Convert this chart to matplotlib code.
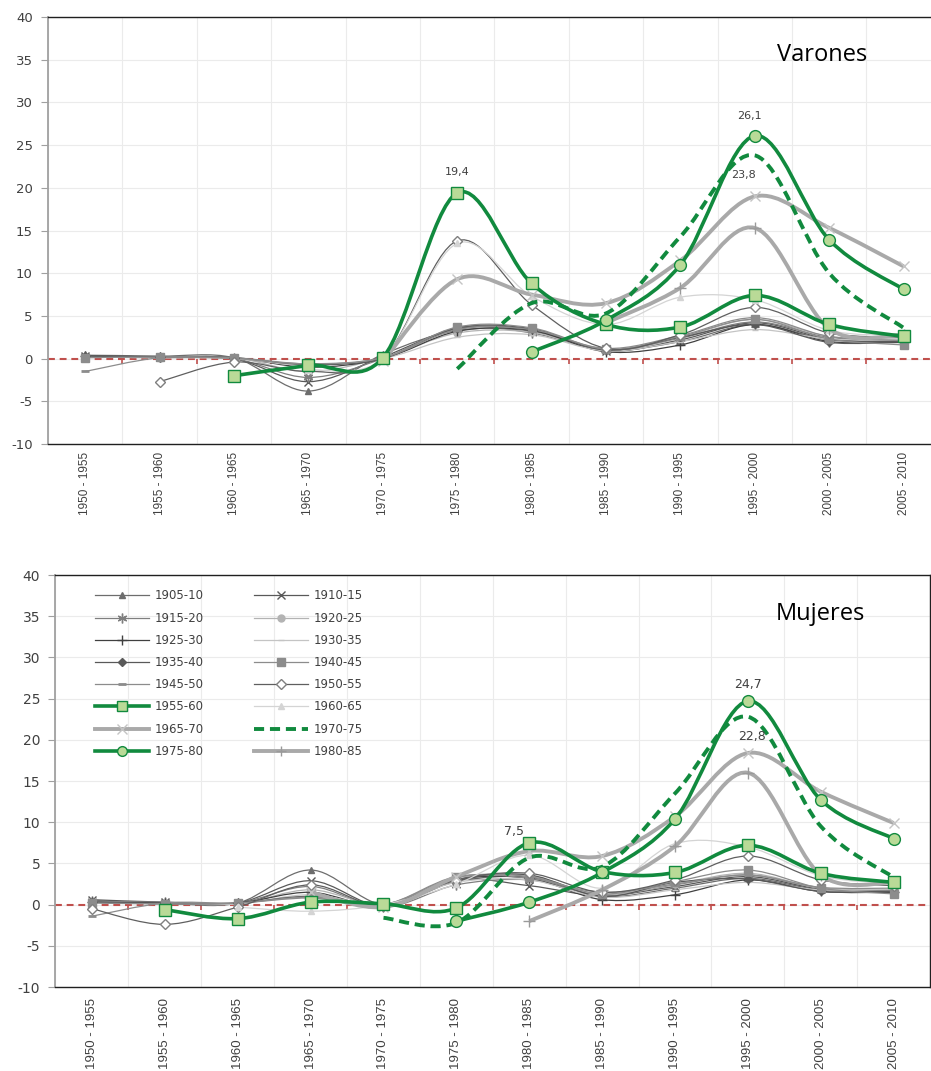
import numpy as np
import matplotlib
matplotlib.use("Agg")
import matplotlib.pyplot as plt
from matplotlib.path import Path
from matplotlib.patches import PathPatch
from matplotlib.lines import Line2D

nan = np.nan

periods = ["1950 - 1955", "1955 - 1960", "1960 - 1965", "1965 - 1970",
           "1970 - 1975", "1975 - 1980", "1980 - 1985", "1985 - 1990",
           "1990 - 1995", "1995 - 2000", "2000 - 2005", "2005 - 2010"]

cohorts = ["1905-10", "1910-15", "1915-20", "1920-25", "1925-30", "1930-35",
           "1935-40", "1940-45", "1945-50", "1950-55", "1955-60", "1960-65",
           "1965-70", "1970-75", "1975-80", "1980-85"]

# Varones (upper panel), one list per birth cohort
v1905 = [0.4, 0.3, 0.1, -3.8, 0.5, 3.3, 3.2, 1.0, 2.0, 4.0, 2.2, 2.0]
v1910 = [0.3, 0.2, 0.0, -2.7, 0.2, 3.5, 3.4, 0.9, 2.2, 4.2, 2.3, 2.0]
v1915 = [0.3, 0.2, 0.0, -2.2, 0.0, 3.6, 3.0, 1.0, 2.4, 4.3, 2.5, 2.2]
v1920 = [0.2, 0.1, 0.1, -1.5, 0.1, 3.0, 3.1, 1.0, 2.5, 4.6, 2.6, 2.3]
v1925 = [0.3, 0.2, 0.1, -1.0, 0.0, 3.2, 3.3, 0.8, 1.6, 4.0, 2.0, 1.9]
v1930 = [0.2, 0.1, 0.0, -0.8, 0.0, 2.5, 2.8, 0.9, 2.0, 3.4, 2.3, 2.2]
v1935 = [0.3, 0.2, 0.1, -0.7, 0.0, 3.6, 3.5, 1.0, 2.5, 4.0, 1.9, 2.0]
v1940 = [0.1, 0.2, 0.1, -0.6, 0.1, 3.7, 3.6, 1.1, 2.6, 4.6, 2.3, 1.6]
v1945 = [-1.5, 0.1, 0.0, -0.6, 0.1, 3.4, 3.4, 1.2, 2.7, 4.8, 2.6, 2.1]
v1950 = [nan, -2.7, -0.4, -1.5, 0.0, 13.8, 6.3, 1.2, 2.8, 6.0, 3.0, 2.5]
v1955 = [nan, nan, -2.0, -0.8, 0.1, 19.4, 8.8, 4.0, 3.7, 7.4, 4.0, 2.6]
v1960 = [nan, nan, nan, -1.3, 0.0, 13.5, 7.3, 4.0, 7.2, 6.9, 3.3, 2.7]
v1965 = [nan, nan, nan, nan, -0.3, 9.3, 7.5, 6.5, 11.5, 19.0, 15.3, 10.8]
v1970 = [nan, nan, nan, nan, nan, -1.2, 6.5, 5.3, 14.3, 23.8, 10.0, 3.6]
v1975 = [nan, nan, nan, nan, nan, nan, 0.8, 4.5, 11.0, 26.1, 13.9, 8.1]
v1980 = [nan, nan, nan, nan, nan, nan, nan, 4.2, 8.3, 15.3, 3.5, 2.8]

# Mujeres (lower panel)
m1905 = [0.5, 0.2, 0.2, 4.2, 0.0, 2.8, 3.3, 1.0, 2.0, 3.2, 1.8, 1.6]
m1910 = [0.6, 0.3, 0.2, 2.9, -0.2, 3.0, 2.3, 1.1, 2.2, 3.4, 1.9, 1.7]
m1915 = [0.4, 0.3, 0.2, 2.2, -0.3, 2.4, 3.0, 1.2, 2.4, 3.6, 2.0, 1.8]
m1920 = [0.3, 0.2, 0.1, 1.8, 0.0, 3.2, 3.5, 1.2, 2.5, 3.8, 2.0, 1.8]
m1925 = [0.3, 0.2, 0.2, 1.5, -0.2, 3.0, 3.2, 0.6, 1.2, 3.0, 1.6, 1.5]
m1930 = [0.2, 0.1, 0.1, 1.2, 0.0, 2.7, 3.0, 0.9, 1.8, 2.7, 1.8, 1.9]
m1935 = [0.3, 0.1, 0.2, 1.0, 0.0, 3.0, 3.6, 1.0, 2.7, 3.1, 1.6, 1.6]
m1940 = [0.2, 0.1, 0.2, 0.9, 0.0, 3.3, 3.4, 1.3, 2.8, 4.2, 2.0, 1.3]
m1945 = [-1.4, 0.2, 0.2, 0.8, 0.0, 3.4, 3.2, 1.5, 2.5, 3.6, 2.1, 2.0]
m1950 = [-0.5, -2.4, -0.3, 2.4, -0.2, 3.0, 3.8, 1.5, 3.0, 5.9, 3.0, 2.3]
m1955 = [nan, -0.6, -1.7, 0.3, 0.1, -0.4, 7.5, 4.0, 3.9, 7.2, 3.8, 2.7]
m1960 = [nan, nan, -0.3, -0.8, 0.0, 2.5, 6.0, 2.0, 7.4, 7.0, 3.5, 2.5]
m1965 = [nan, nan, nan, 1.5, -0.3, 3.4, 6.5, 5.9, 10.7, 18.4, 13.7, 9.9]
m1970 = [nan, nan, nan, nan, -1.6, -2.2, 5.7, 4.6, 13.5, 22.8, 9.5, 3.3]
m1975 = [nan, nan, nan, nan, nan, -2.0, 0.3, 3.9, 10.4, 24.7, 12.7, 8.0]
m1980 = [nan, nan, nan, nan, nan, nan, -2.0, 1.8, 7.1, 16.0, 3.6, 2.7]

varones = [v1905, v1910, v1915, v1920, v1925, v1930, v1935, v1940,
           v1945, v1950, v1955, v1960, v1965, v1970, v1975, v1980]
mujeres = [m1905, m1910, m1915, m1920, m1925, m1930, m1935, m1940,
           m1945, m1950, m1955, m1960, m1965, m1970, m1975, m1980]

GREEN = "#118a3e"
LIGHT_GREEN = "#b9da97"
THICK = "#a9a9a9"
RED = "#c0504d"
TXT = "#404040"

plt.rcParams["axes.unicode_minus"] = False
plt.rcParams["font.family"] = "DejaVu Sans"


def thin(color, marker, ms=5, mfc=None, mec=None, mew=1.0):
    return dict(color=color, lw=0.9, ls="-", z=2, marker=marker, ms=ms,
                mfc=mfc or color, mec=mec or color, mew=mew)


# Excel-like series formats, same order as cohorts
styles = [
    thin("#6d6d6d", "^", 5),
    thin("#595959", "x", 6),
    thin("#7f7f7f", (6, 2, 0), 7),
    thin("#b3b3b3", "o", 5),
    thin("#404040", "+", 7),
    thin("#c4c4c4", "_", 5),
    thin("#595959", "D", 4),
    thin("#8c8c8c", "s", 6),
    thin("#8c8c8c", "_", 6, mew=2),
    thin("#5f5f5f", "D", 5, mfc="white", mec="#7f7f7f"),
    dict(color=GREEN, lw=2.6, ls="-", z=4, marker="s", ms=8,
         mfc=LIGHT_GREEN, mec=GREEN, mew=1.0),
    thin("#d4d4d4", "^", 5),
    dict(color=THICK, lw=2.8, ls="-", z=3, marker="x", ms=7,
         mfc=THICK, mec="#c4c4c4", mew=1.0),
    dict(color=GREEN, lw=2.8, ls=(0, (2.6, 1.5)), z=4, marker=None, ms=0,
         mfc=GREEN, mec=GREEN, mew=1.0),
    dict(color=GREEN, lw=2.6, ls="-", z=4.2, marker="o", ms=8.5,
         mfc=LIGHT_GREEN, mec=GREEN, mew=1.0),
    dict(color=THICK, lw=2.8, ls="-", z=3, marker="+", ms=8,
         mfc=THICK, mec="#9a9a9a", mew=1.0),
]


def smooth_path(x, y):
    """Smoothed line through the points as cubic Bezier segments."""
    pts = np.column_stack([x, y])
    n = len(pts)
    verts = [pts[0]]
    codes = [Path.MOVETO]
    for i in range(n - 1):
        p0 = pts[max(i - 1, 0)]
        p1 = pts[i]
        p2 = pts[i + 1]
        p3 = pts[min(i + 2, n - 1)]
        verts += [p1 + (p2 - p0) / 6, p2 - (p3 - p1) / 6, p2]
        codes += [Path.CURVE4] * 3
    return Path(verts, codes)


def draw_series(ax, values, st):
    y = np.array(values, dtype=float)
    x = np.arange(len(y))
    ok = ~np.isnan(y)
    x, y = x[ok], y[ok]
    ax.add_patch(PathPatch(smooth_path(x, y), fill=False, edgecolor=st["color"],
                           lw=st["lw"], ls=st["ls"], zorder=st["z"],
                           capstyle="butt", joinstyle="round"))
    if st["marker"] is not None:
        ax.plot(x, y, ls="none", marker=st["marker"], ms=st["ms"],
                mfc=st["mfc"], mec=st["mec"], mew=st["mew"],
                zorder=st["z"] + 0.1)


def setup_axes(ax, ytick_size, xtick_size, xpad):
    n = len(periods)
    ax.set_xlim(-0.5, n - 0.5)
    ax.set_ylim(-10, 40)
    ax.set_yticks(np.arange(-10, 41, 5))
    ax.set_xticks(np.arange(n))
    ax.set_xticklabels(periods, rotation=90, family="Liberation Sans",
                       fontsize=xtick_size, color=TXT)
    ax.set_xticks(np.arange(n + 1) - 0.5, minor=True)
    ax.grid(True, which="minor", axis="x", color="#ebebeb", lw=0.8)
    ax.grid(True, which="major", axis="y", color="#ebebeb", lw=0.8)
    ax.set_axisbelow(True)
    ax.tick_params(axis="x", which="both", length=0, pad=xpad)
    ax.tick_params(axis="y", length=5, color="#a0a0a0", labelsize=ytick_size,
                   labelcolor=TXT, pad=6)
    for side in ["top", "bottom", "right"]:
        ax.spines[side].set_color("#202020")
        ax.spines[side].set_linewidth(1.0)
    ax.spines["left"].set_color("#a0a0a0")
    ax.spines["left"].set_linewidth(1.3)
    ax.axhline(0, color=RED, lw=1.5, ls=(0, (3.3, 2.3)), zorder=1.5)
    ax.vlines(np.arange(1, n) - 0.5, -0.6, 0, color=RED, lw=1.2, zorder=1.5)


def fmt(v):
    return f"{v:.1f}".replace(".", ",")


fig = plt.figure(figsize=(9.31, 10.71), dpi=100)

# Upper panel: Varones
ax1 = fig.add_axes([0.0516, 0.5854, 0.959, 0.3987])
setup_axes(ax1, 9.5, 8.5, 6)
for vals, st in zip(varones, styles):
    draw_series(ax1, vals, st)
ax1.text(0.867, 0.911, "Varones", transform=ax1.transAxes, ha="center",
         va="center", fontsize=17, family="Open Sans", color="black")
for vals, idx, off in [(v1955, 5, (0, 15)), (v1975, 9, (-4, 14)),
                       (v1970, 9, (-8, -14))]:
    ax1.annotate(fmt(vals[idx]), xy=(idx, vals[idx]), xytext=off,
                 textcoords="offset points", ha="center", va="center",
                 fontsize=8, color=TXT, zorder=6)

# Lower panel: Mujeres
ax2 = fig.add_axes([0.0596, 0.0784, 0.9395, 0.3847])
setup_axes(ax2, 10, 9.5, 8)
for vals, st in zip(mujeres, styles):
    draw_series(ax2, vals, st)
ax2.text(0.875, 0.905, "Mujeres", transform=ax2.transAxes, ha="center",
         va="center", fontsize=17, family="Open Sans", color="black")
for vals, idx, off in [(m1955, 6, (-11, 8)), (m1975, 9, (0, 12)),
                       (m1970, 9, (3, -14))]:
    ax2.annotate(fmt(vals[idx]), xy=(idx, vals[idx]), xytext=off,
                 textcoords="offset points", ha="center", va="center",
                 fontsize=9, color=TXT, zorder=6)

# Legend, filled row by row like the original
handles = []
for name, st in zip(cohorts, styles):
    handles.append(Line2D([0], [0], color=st["color"], lw=st["lw"], ls=st["ls"],
                          marker=st["marker"], ms=min(st["ms"], 7),
                          mfc=st["mfc"], mec=st["mec"], mew=st["mew"],
                          label=name))
order = list(range(0, len(handles), 2)) + list(range(1, len(handles), 2))
ax2.legend([handles[i] for i in order], [cohorts[i] for i in order],
           loc="upper left", bbox_to_anchor=(0.045, 0.965), ncol=2,
           frameon=False, fontsize=8.5, handlelength=4.6, handletextpad=0.5,
           columnspacing=4.2, labelspacing=0.78, borderpad=0,
           borderaxespad=0, numpoints=1, labelcolor=TXT)

fig.savefig("out.png", dpi=100)
